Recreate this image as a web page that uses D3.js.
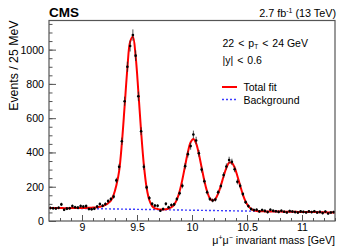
<!DOCTYPE html>
<html>
<head>
<meta charset="utf-8">
<script src="https://cdn.jsdelivr.net/npm/d3@7"></script>
<style>
  body { margin: 0; background: #fff; }
  svg { display: block; font-family: "Liberation Sans", Arial, sans-serif; }
</style>
</head>
<body>
<div id="chart"></div>
<script>
// dimuon mass spectrum, 25 MeV bins from 8.7 to 11.3 GeV
var binStart = 8.7;
var binWidth = 0.025;

// events per bin
var counts = [
  76, 74, 73, 77, 97, 66, 72, 74, 87, 80,
  78, 87, 84, 87, 70, 69, 72, 84, 99, 89,
  99, 116, 128, 142, 237, 316, 465, 699, 900, 1021,
  1085, 965, 728, 524, 316, 196, 134, 100, 90, 89,
  60, 70, 100, 80, 93, 97, 128, 162, 205, 320,
  390, 437, 505, 470, 395, 300, 232, 168, 128, 120,
  125, 168, 204, 268, 318, 356, 345, 302, 229, 205,
  157, 110, 87, 70, 64, 66, 56, 64, 59, 52,
  66, 60, 57, 53, 60, 54, 50, 58, 55, 52,
  49, 56, 53, 50, 56, 52, 57, 49, 53, 46,
  55, 44, 50, 52
];

// total fit, evaluated at the bin centres
var fitValues = [
  76, 76, 76, 76, 76, 75, 75, 75, 76, 76,
  76, 76, 76, 76, 77, 78, 79, 80, 83, 87,
  94, 104, 119, 152, 208, 291, 455, 670, 890, 1046,
  1075, 962, 753, 521, 326, 194, 121, 87, 74, 70,
  67, 67, 68, 72, 80, 96, 125, 174, 242, 323,
  401, 460, 479, 453, 391, 312, 234, 172, 132, 119,
  129, 160, 207, 261, 310, 340, 339, 312, 263, 207,
  154, 113, 87, 71, 62, 59, 57, 57, 56, 56,
  56, 55, 55, 55, 55, 54, 54, 54, 54, 54,
  53, 53, 53, 53, 52, 52, 52, 52, 51, 51,
  51, 50, 50, 50
];

// background component (linear)
var bgMass = [8.7, 11.3];
var bgValues = [76, 50];

var xTicks = [9, 9.5, 10, 10.5, 11];
var yTicks = [0, 200, 400, 600, 800, 1000];

var W = 349, H = 251;
var margin = {top: 20.5, right: 14, bottom: 30, left: 49};

var svg = d3.select("#chart").append("svg")
    .attr("width", W)
    .attr("height", H);

var x = d3.scaleLinear().domain([8.7, 11.3]).range([margin.left, W - margin.right]);
var y = d3.scaleLinear().domain([0, 1170]).range([H - margin.bottom, margin.top]);

var data = counts.map(function(c, i) {
    return {m: binStart + binWidth * (i + 0.5), n: c};
});

svg.append("defs").append("clipPath").attr("id", "plotclip")
    .append("rect")
    .attr("x", x.range()[0]).attr("y", y.range()[1])
    .attr("width", x.range()[1] - x.range()[0])
    .attr("height", y.range()[0] - y.range()[1]);

var plot = svg.append("g").attr("clip-path", "url(#plotclip)");

/* background, dashed blue */
plot.append("path")
    .datum(bgMass.map(function(m, i) { return [m, bgValues[i]]; }))
    .attr("d", d3.line().x(function(d) { return x(d[0]); }).y(function(d) { return y(d[1]); }))
    .attr("fill", "none")
    .attr("stroke", "#3c3cff")
    .attr("stroke-width", 1.4)
    .attr("stroke-dasharray", "2,2");

/* total fit, red */
var fitPts = fitValues.map(function(v, i) { return [binStart + binWidth * (i + 0.5), v]; });
fitPts.unshift([x.domain()[0], fitValues[0]]);
fitPts.push([x.domain()[1], fitValues[fitValues.length - 1]]);

plot.append("path")
    .datum(fitPts)
    .attr("d", d3.line()
        .curve(d3.curveCatmullRom.alpha(0.5))
        .x(function(d) { return x(d[0]); })
        .y(function(d) { return y(d[1]); }))
    .attr("fill", "none")
    .attr("stroke", "#ff0000")
    .attr("stroke-width", 2);

/* data points with sqrt(N) error bars */
var pts = plot.append("g").selectAll("g")
    .data(data)
    .enter().append("g");

pts.append("line")
    .attr("x1", function(d) { return x(d.m); })
    .attr("x2", function(d) { return x(d.m); })
    .attr("y1", function(d) { return y(d.n + Math.sqrt(d.n)); })
    .attr("y2", function(d) { return y(d.n - Math.sqrt(d.n)); })
    .attr("stroke", "#222")
    .attr("stroke-width", 0.8);

pts.append("circle")
    .attr("cx", function(d) { return x(d.m); })
    .attr("cy", function(d) { return y(d.n); })
    .attr("r", 1.3)
    .attr("fill", "#000");

/* frame */
svg.append("rect")
    .attr("x", x.range()[0]).attr("y", y.range()[1])
    .attr("width", x.range()[1] - x.range()[0])
    .attr("height", y.range()[0] - y.range()[1])
    .attr("fill", "none")
    .attr("stroke", "#555")
    .attr("stroke-width", 1.2);

/* axes: ticks point inward, ROOT style */
var xAxis = svg.append("g")
    .attr("transform", "translate(0," + y.range()[0] + ")")
    .call(d3.axisBottom(x).tickValues(xTicks).tickSize(-6).tickPadding(2.5)
        .tickFormat(d3.format("")));
var xMinor = svg.append("g")
    .attr("transform", "translate(0," + y.range()[0] + ")")
    .call(d3.axisBottom(x).tickValues(d3.range(88, 114).map(function(v) { return v / 10; }))
        .tickSize(-3).tickFormat(""));

var yAxis = svg.append("g")
    .attr("transform", "translate(" + x.range()[0] + ",0)")
    .call(d3.axisLeft(y).tickValues(yTicks).tickSize(-7).tickPadding(5)
        .tickFormat(d3.format("d")));
var yMinor = svg.append("g")
    .attr("transform", "translate(" + x.range()[0] + ",0)")
    .call(d3.axisLeft(y).tickValues(d3.range(0, 1170, 50)).tickSize(-3.5).tickFormat(""));

[xAxis, xMinor, yAxis, yMinor].forEach(function(a) {
    a.select(".domain").remove();
    a.selectAll("line").attr("stroke", "#555").attr("stroke-width", 1);
    a.selectAll("text").attr("fill", "#000").style("font-size", "10.6px")
        .style("font-family", "'Liberation Sans', Arial, sans-serif");
});

/* titles */
svg.append("text")
    .attr("transform", "translate(17.5," + y.range()[1] + ") rotate(-90)")
    .attr("text-anchor", "end")
    .style("font-size", "12.3px")
    .text("Events / 25 MeV");

var xt = svg.append("text")
    .attr("x", x.range()[1])
    .attr("y", 244)
    .attr("text-anchor", "end")
    .style("font-size", "10.7px");
xt.append("tspan").text("\u03bc");
xt.append("tspan").attr("dy", -4).style("font-size", "7px").text("+");
xt.append("tspan").attr("dy", 4).text("\u03bc");
xt.append("tspan").attr("dy", -4).style("font-size", "7px").text("\u2212");
xt.append("tspan").attr("dy", 4).text(" invariant mass [GeV]");

svg.append("text")
    .attr("x", x.range()[0])
    .attr("y", 16.5)
    .style("font-size", "13.5px")
    .style("font-weight", "bold")
    .text("CMS");

var lumi = svg.append("text")
    .attr("x", x.range()[1] + 1)
    .attr("y", 16.5)
    .attr("text-anchor", "end")
    .style("font-size", "10.8px");
lumi.append("tspan").text("2.7 fb");
lumi.append("tspan").attr("dy", -4).style("font-size", "7px").text("-1");
lumi.append("tspan").attr("dy", 4).text(" (13 TeV)");

/* selection labels */
var sel = svg.append("text")
    .attr("x", 222.5)
    .attr("y", 46.5)
    .style("font-size", "10.5px");
sel.append("tspan").text("22");
sel.append("tspan").attr("dx", 4).text("<");
sel.append("tspan").attr("dx", 4).text("p");
sel.append("tspan").attr("dy", 2.5).style("font-size", "6.5px").text("T");
sel.append("tspan").attr("dy", -2.5).attr("dx", 4).text("<");
sel.append("tspan").attr("dx", 4).text("24 GeV");

var rap = svg.append("text")
    .attr("x", 222.5)
    .attr("y", 63.5)
    .style("font-size", "10.5px");
rap.append("tspan").text("|y|");
rap.append("tspan").attr("dx", 4).text("<");
rap.append("tspan").attr("dx", 4).text("0.6");

/* legend */
var legend = svg.append("g");
legend.append("line")
    .attr("x1", 222).attr("x2", 237).attr("y1", 87).attr("y2", 87)
    .attr("stroke", "#ff0000").attr("stroke-width", 2);
legend.append("text").attr("x", 243.5).attr("y", 91)
    .style("font-size", "10.5px").text("Total fit");
legend.append("line")
    .attr("x1", 222).attr("x2", 237).attr("y1", 99.5).attr("y2", 99.5)
    .attr("stroke", "#3c3cff").attr("stroke-width", 1.4).attr("stroke-dasharray", "2,2");
legend.append("text").attr("x", 243.5).attr("y", 103.5)
    .style("font-size", "10.5px").text("Background");
</script>
</body>
</html>
